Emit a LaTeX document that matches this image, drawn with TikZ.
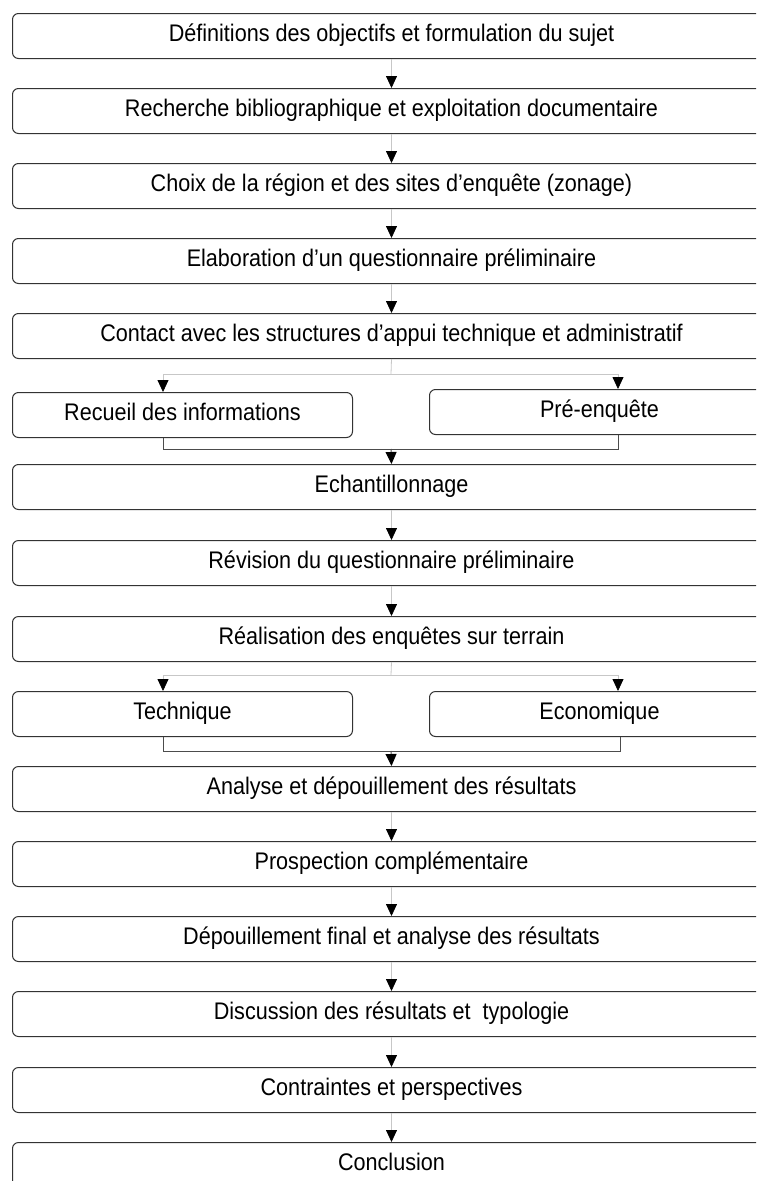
\documentclass[tikz,border=0pt]{standalone}
\usepackage{fontspec}
\setmainfont[FakeStretch=0.90]{Liberation Sans}
\usetikzlibrary{arrows.meta}
\begin{document}
\begin{tikzpicture}[x=1pt,y=-1pt,
  box/.style={draw=black!80, line width=1pt, rounded corners=6pt,
    text height=28pt, text depth=17pt, inner xsep=0pt, inner ysep=0pt,
    anchor=north west, font=\fontsize{24}{28}\selectfont},
  mainbox/.style={box, minimum width=758pt},
  halfbox/.style={box, minimum width=340pt},
  light/.style={draw=black!22, line width=0.8pt},
  joinline/.style={draw=black!70, line width=1pt},
  arr/.style={-{Triangle[width=11pt,length=12pt,color=black]}}
]
\useasboundingbox (0,0) rectangle (756,1181);
\clip (0,0) rectangle (756,1181);

\node[mainbox] (b1) at (12,13) {Définitions des objectifs et formulation du sujet};
\node[mainbox] (b2) at (12,88) {Recherche bibliographique et exploitation documentaire};
\node[mainbox] (b3) at (12,163) {Choix de la région et des sites d’enquête (zonage)};
\node[mainbox] (b4) at (12,238) {Elaboration d’un questionnaire préliminaire};
\node[mainbox] (b5) at (12,313) {Contact avec les structures d’appui technique et administratif};
\node[halfbox] (r1) at (12,392) {Recueil des informations};
\node[halfbox] (p1) at (429,389) {Pré-enquête};
\node[mainbox] (b7) at (12,464) {Echantillonnage};
\node[mainbox] (b8) at (12,540) {Révision du questionnaire préliminaire};
\node[mainbox] (b9) at (12,616) {Réalisation des enquêtes sur terrain};
\node[halfbox] (r2) at (12,691) {Technique};
\node[halfbox] (p2) at (429,691) {Economique};
\node[mainbox] (b11) at (12,766) {Analyse et dépouillement des résultats};
\node[mainbox] (b12) at (12,841) {Prospection complémentaire};
\node[mainbox] (b13) at (12,916) {Dépouillement final et analyse des résultats};
\node[mainbox] (b14) at (12,991) {Discussion des résultats et \ typologie};
\node[mainbox] (b15) at (12,1067) {Contraintes et perspectives};
\node[mainbox] (b16) at (12,1142) {Conclusion};

% straight connectors
\foreach \a/\b in {b1/b2,b2/b3,b3/b4,b4/b5,b7/b8,b8/b9,b11/b12,b12/b13,b13/b14,b14/b15,b15/b16}
  \draw[light,arr] (\a.south) -- (\b.north);

% split 1
\coordinate (s1) at (391,374);
\coordinate (a1) at (163,374);
\coordinate (a2) at (618,374);
\draw[light] (b5.south) -- (s1);
\draw[light] (a1) -- (a2);
\draw[light,arr] (a1) -- (a1 |- r1.north);
\draw[light,arr] (a2) -- (a2 |- p1.north);
\coordinate (j1) at (163,449);
\coordinate (j2) at (618,449);
\coordinate (m1) at (391,449);
\draw[joinline] (j1 |- r1.south) -- (j1) -- (j2) -- (j2 |- p1.south);
\draw[joinline,arr] (m1) -- (b7.north);

% split 2
\coordinate (s2) at (391,675);
\coordinate (c1) at (163,675);
\coordinate (c2) at (618,675);
\draw[light] (b9.south) -- (s2);
\draw[light] (c1) -- (c2);
\draw[light,arr] (c1) -- (c1 |- r2.north);
\draw[light,arr] (c2) -- (c2 |- p2.north);
\coordinate (k1) at (163,751);
\coordinate (k2) at (620,751);
\coordinate (m2) at (391,751);
\draw[joinline] (k1 |- r2.south) -- (k1) -- (k2) -- (k2 |- p2.south);
\draw[joinline,arr] (m2) -- (b11.north);
\end{tikzpicture}
\end{document}
